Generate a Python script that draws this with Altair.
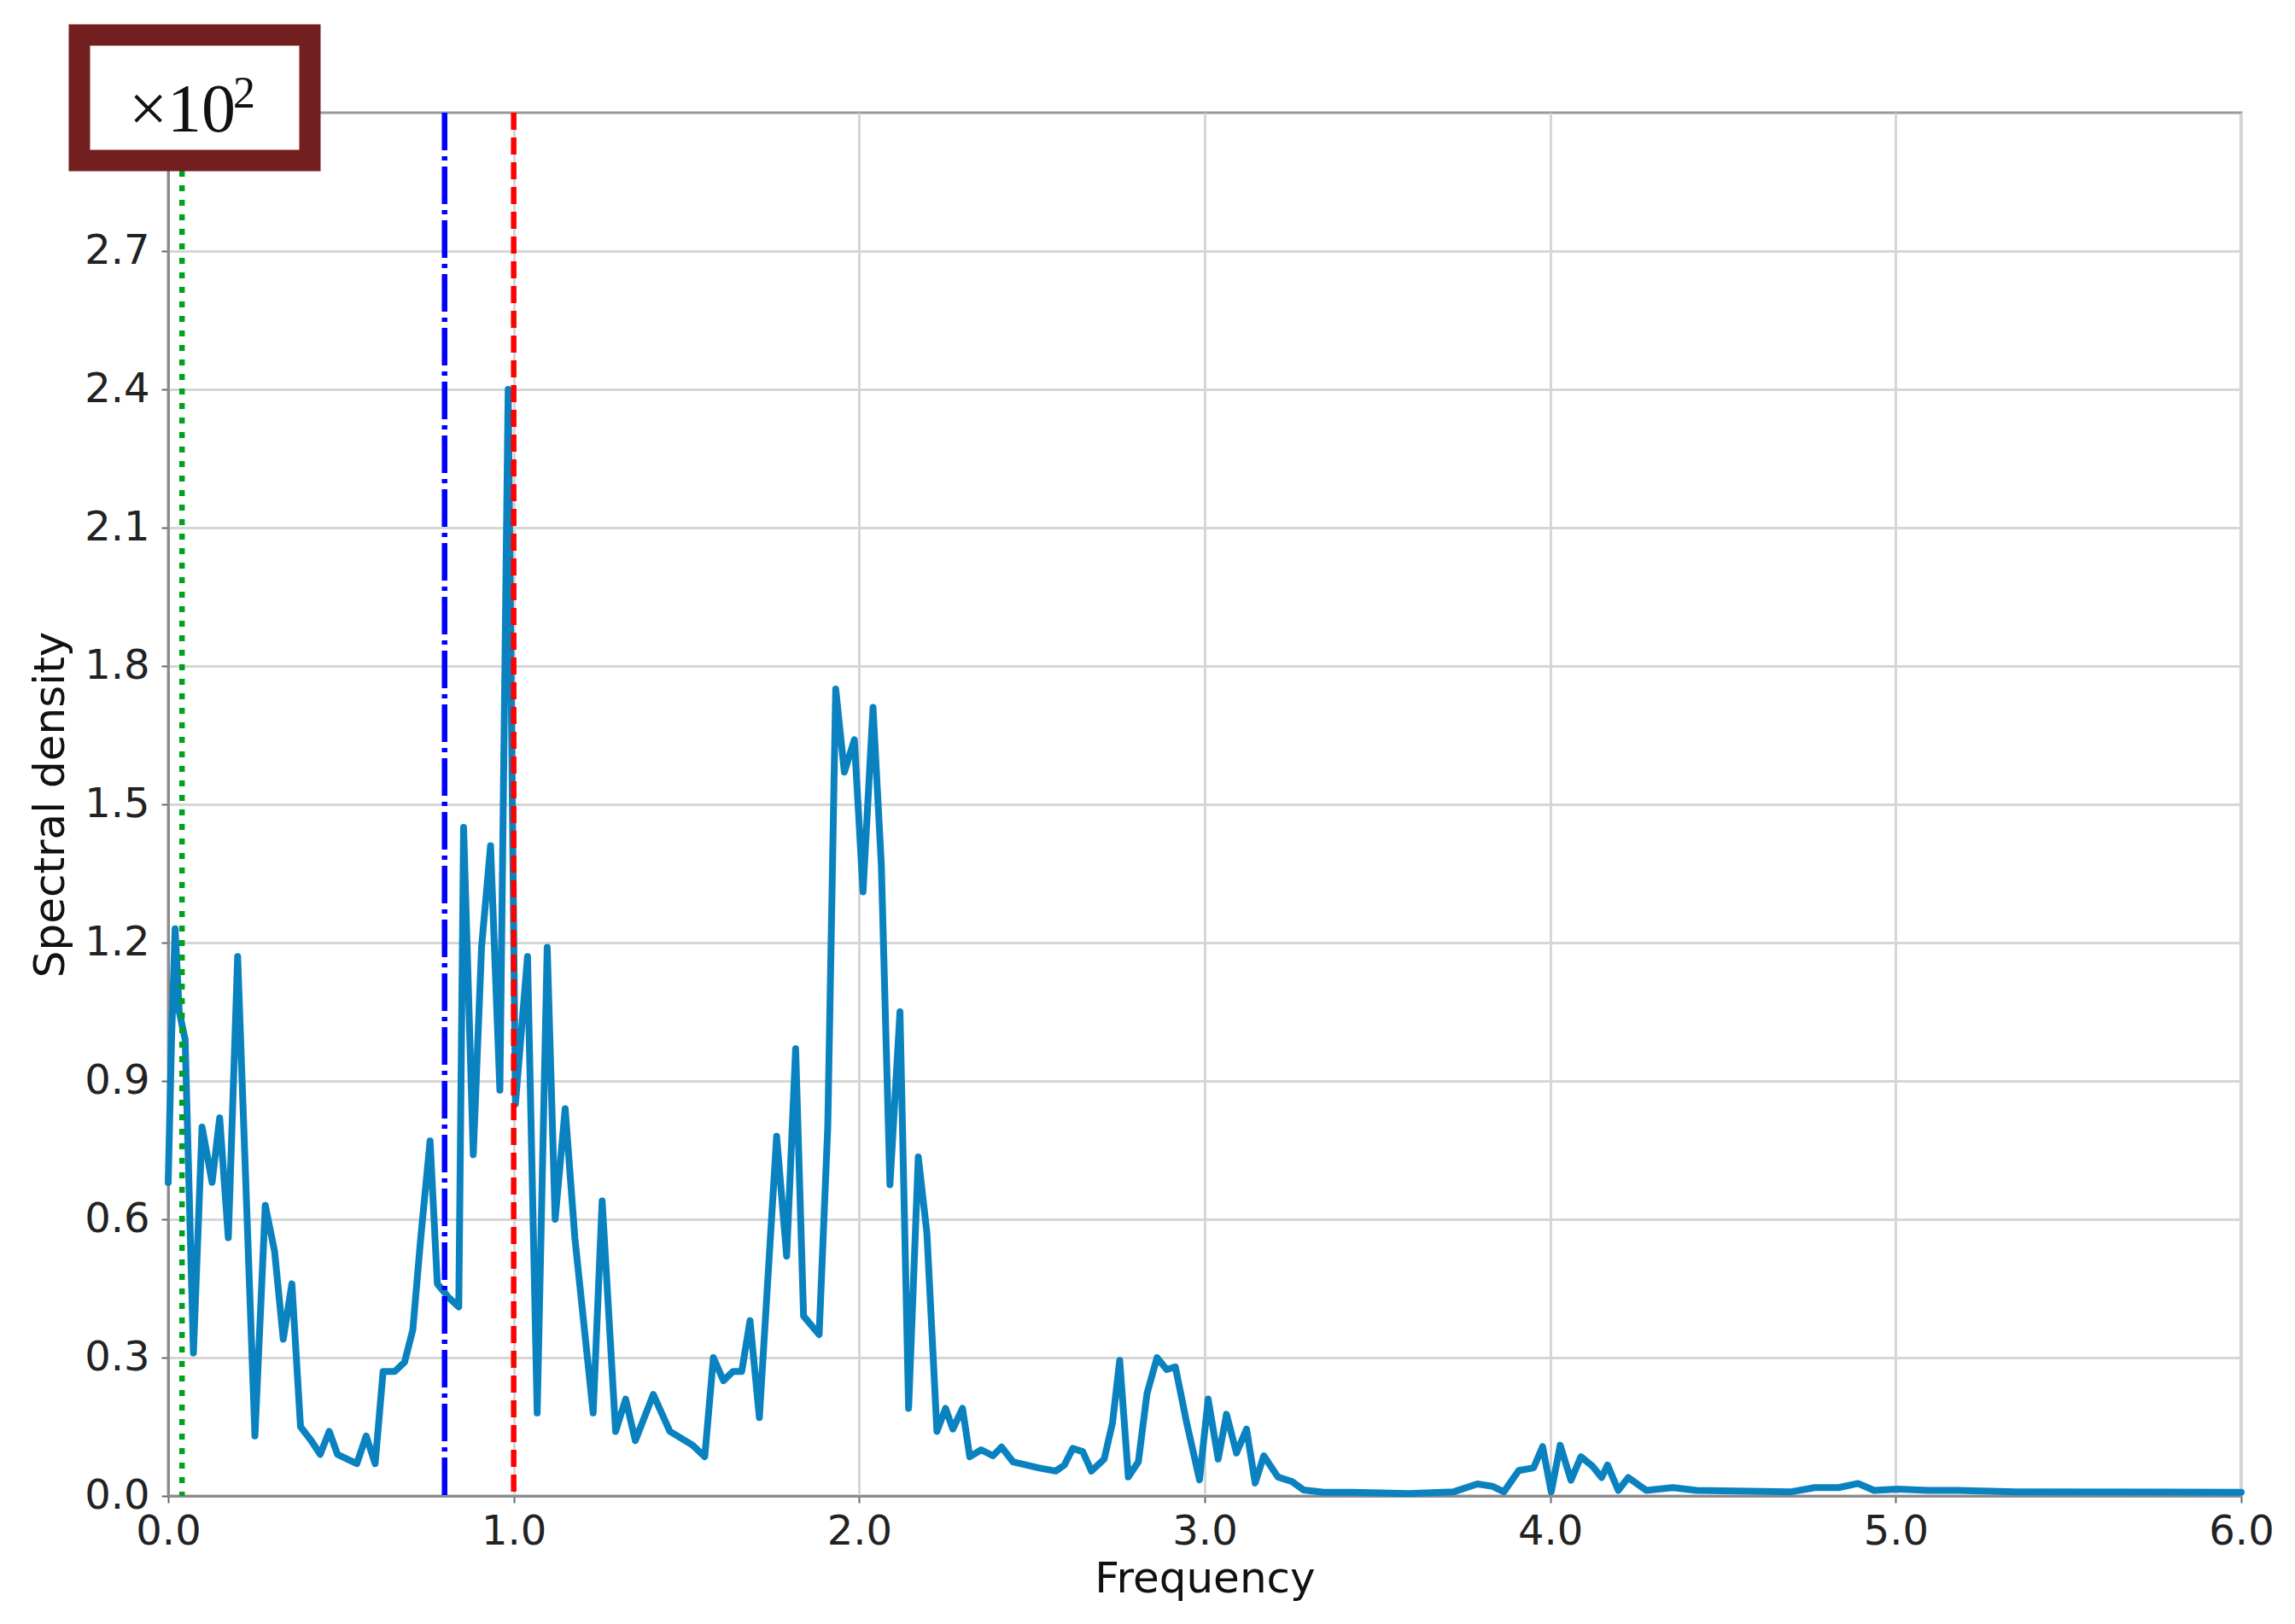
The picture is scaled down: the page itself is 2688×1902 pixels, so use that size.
import altair as alt
import pandas as pd

# ---- data (values are in units of 10^2) ----
freq = [0.000, 0.010, 0.020, 0.032, 0.049, 0.073, 0.098, 0.127, 0.149, 0.174,
        0.201, 0.251, 0.281, 0.308, 0.333, 0.358, 0.383, 0.414, 0.440, 0.466,
        0.490, 0.518, 0.546, 0.573, 0.599, 0.622, 0.656, 0.684, 0.708, 0.731,
        0.758, 0.779, 0.812, 0.841, 0.855, 0.883, 0.907, 0.933, 0.960, 0.984,
        1.005, 1.040, 1.068, 1.097, 1.120, 1.149, 1.177, 1.230, 1.256, 1.295,
        1.324, 1.352, 1.404, 1.452, 1.518, 1.553, 1.578, 1.607, 1.635, 1.660,
        1.684, 1.711, 1.761, 1.790, 1.816, 1.839, 1.884, 1.909, 1.932, 1.957,
        1.986, 2.011, 2.040, 2.064, 2.089, 2.118, 2.143, 2.171, 2.196, 2.225,
        2.250, 2.271, 2.299, 2.320, 2.353, 2.387, 2.412, 2.445, 2.519, 2.569,
        2.594, 2.618, 2.647, 2.672, 2.709, 2.733, 2.754, 2.779, 2.808, 2.833,
        2.862, 2.890, 2.915, 2.948, 2.985, 3.010, 3.039, 3.063, 3.092, 3.121,
        3.146, 3.171, 3.212, 3.253, 3.286, 3.344, 3.426, 3.591, 3.721, 3.789,
        3.832, 3.866, 3.909, 3.952, 3.978, 4.003, 4.029, 4.060, 4.089, 4.123,
        4.149, 4.166, 4.197, 4.226, 4.278, 4.355, 4.423, 4.578, 4.698, 4.766,
        4.835, 4.891, 4.937, 5.006, 5.092, 5.177, 5.349, 6.000]
density = [0.68, 1.00, 1.23, 1.05, 0.99, 0.31, 0.80, 0.68, 0.82, 0.56,
           1.17, 0.13, 0.63, 0.53, 0.34, 0.46, 0.15, 0.12, 0.09, 0.14,
           0.09, 0.08, 0.07, 0.13, 0.07, 0.27, 0.27, 0.29, 0.36, 0.56,
           0.77, 0.46, 0.43, 0.41, 1.45, 0.74, 1.19, 1.41, 0.88, 2.40,
           0.85, 1.17, 0.18, 1.19, 0.60, 0.84, 0.56, 0.18, 0.64, 0.14,
           0.21, 0.12, 0.22, 0.14, 0.11, 0.085, 0.30, 0.25, 0.27, 0.27,
           0.38, 0.17, 0.78, 0.52, 0.97, 0.39, 0.35, 0.80, 1.75, 1.57,
           1.64, 1.31, 1.71, 1.37, 0.675, 1.05, 0.19, 0.735, 0.57, 0.14,
           0.19, 0.145, 0.19, 0.085, 0.10, 0.087, 0.106, 0.074, 0.061, 0.054,
           0.067, 0.103, 0.096, 0.054, 0.08, 0.158, 0.294, 0.041, 0.074, 0.222,
           0.30, 0.274, 0.28, 0.158, 0.035, 0.21, 0.08, 0.177, 0.093, 0.145,
           0.028, 0.087, 0.041, 0.031, 0.013, 0.008, 0.008, 0.005, 0.009, 0.026,
           0.021, 0.009, 0.055, 0.061, 0.107, 0.009, 0.11, 0.034, 0.085, 0.064,
           0.04, 0.067, 0.012, 0.04, 0.012, 0.018, 0.012, 0.010, 0.009, 0.018,
           0.018, 0.027, 0.012, 0.015, 0.012, 0.012, 0.009, 0.008]

green_freq = [0.04]
blue_freq = [0.8]
red_freq = [1.0]

x_ticks = [0, 1, 2, 3, 4, 5, 6]
y_ticks = [0.0, 0.3, 0.6, 0.9, 1.2, 1.5, 1.8, 2.1, 2.4, 2.7]
multiplier_base = "×10"
multiplier_exp = "2"

df = pd.DataFrame({"Frequency": freq, "Spectral density": density})

x_scale = alt.Scale(domain=[0, 6], nice=False, zero=False)
y_scale = alt.Scale(domain=[0, 3.0], nice=False)

axis_common = dict(
    labelFont="DejaVu Sans", titleFont="DejaVu Sans",
    labelFontSize=48, titleFontSize=50, titleFontWeight="normal",
    labelColor="#222222", titleColor="#111111",
    tickSize=8, tickWidth=2, tickColor="#666666",
    domainColor="#8c8c8c", domainWidth=3,
    gridColor="#d6d6d6", gridWidth=3,
    labelFlush=False, labelOverlap=False,
)

x_axis = alt.Axis(values=x_ticks, format=".1f", labelPadding=10, titlePadding=6, **axis_common)
y_axis = alt.Axis(values=y_ticks, format=".1f", labelPadding=14, titlePadding=14, **axis_common)

line = alt.Chart(df).mark_line(
    color="#0a82bf", strokeWidth=8, strokeJoin="round", strokeCap="round"
).encode(
    x=alt.X("Frequency:Q", scale=x_scale, axis=x_axis, title="Frequency"),
    y=alt.Y("Spectral density:Q", scale=y_scale, axis=y_axis, title="Spectral density"),
)

green = alt.Chart(pd.DataFrame({"f": green_freq})).mark_rule(
    color="#00a020", strokeWidth=6.5, strokeDash=[7, 10]
).encode(x=alt.X("f:Q", scale=x_scale))

blue = alt.Chart(pd.DataFrame({"f": blue_freq})).mark_rule(
    color="#0000ff", strokeWidth=6.5, strokeDash=[44, 7, 5, 7]
).encode(x=alt.X("f:Q", scale=x_scale))

red = alt.Chart(pd.DataFrame({"f": red_freq})).mark_rule(
    color="#ff0000", strokeWidth=6.5, strokeDash=[20, 9]
).encode(x=alt.X("f:Q", scale=x_scale))

box_df = pd.DataFrame({"base": [multiplier_base], "exp": [multiplier_exp]})

box = alt.Chart(box_df).mark_rect(
    fill="white", stroke="#731f1f", strokeWidth=25
).encode(
    x=alt.value(-104), x2=alt.value(166), y=alt.value(-91), y2=alt.value(56)
)

base_text = alt.Chart(box_df).mark_text(
    font="Liberation Serif", fontSize=80, align="left", baseline="alphabetic", color="#111111"
).encode(text="base:N", x=alt.value(-46), y=alt.value(22))

exp_text = alt.Chart(box_df).mark_text(
    font="Liberation Serif", fontSize=52, align="left", baseline="alphabetic", color="#111111"
).encode(text="exp:N", x=alt.value(76), y=alt.value(-6))

chart = alt.layer(line, green, blue, red, box, base_text, exp_text).properties(
    width=2428,
    height=1620,
    padding={"left": 189, "top": 124, "right": 55, "bottom": 142},
    autosize=alt.AutoSizeParams(type="none"),
    background="white",
).configure_view(stroke="#9a9a9a", strokeWidth=3)

chart.save("out.html", embed_options={"renderer": "svg", "actions": False})
